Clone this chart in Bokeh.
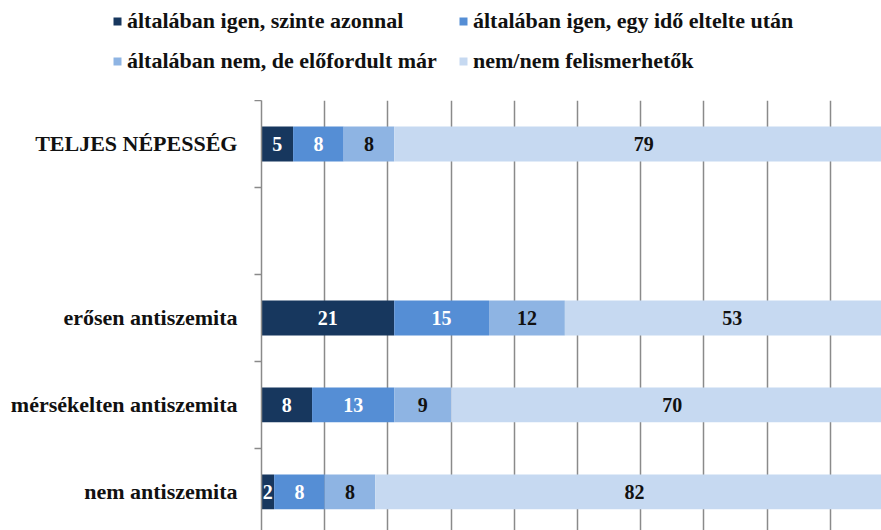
from bokeh.plotting import figure
from bokeh.layouts import column
from bokeh.models import ColumnDataSource, Range1d, FixedTicker, Legend, LegendItem
from bokeh.core.properties import value
from bokeh.embed import file_html
from bokeh.resources import INLINE

categories = ["TELJES NÉPESSÉG", "", "erősen antiszemita", "mérsékelten antiszemita", "nem antiszemita"]
series_names = ["általában igen, szinte azonnal", "általában igen, egy idő eltelte után",
                "általában nem, de előfordult már", "nem/nem felismerhetők"]
s1 = [5, 0, 21, 8, 2]
s2 = [8, 0, 15, 13, 8]
s3 = [8, 0, 12, 9, 8]
s4 = [79, 0, 53, 70, 82]
colors = ["#17375E", "#558ED5", "#8EB4E3", "#C6D9F1"]
label_colors = ["white", "white", "#111111", "#111111"]
x_ticks = [0, 10, 20, 30, 40, 50, 60, 70, 80, 90, 100]

FONT = "Liberation Serif"
XMAX = 98.1
n = len(categories)
ypos = [n - 1 - i for i in range(n)]

keys = ["s1", "s2", "s3", "s4"]
data = dict(y=ypos, s1=s1, s2=s2, s3=s3, s4=s4)
source = ColumnDataSource(data)

# ---- legend strip on top ----
lf = figure(width=881, height=100, output_backend="svg", toolbar_location=None,
            x_range=Range1d(0, 1), y_range=Range1d(0, 1),
            x_axis_location=None, y_axis_location=None,
            min_border_left=0, min_border_right=0, min_border_top=0, min_border_bottom=0)
lf.frame_align = False
lf.outline_line_color = None
lf.xgrid.visible = False
lf.ygrid.visible = False
# legend-only swatches (zero-width bars, placed outside the visible range)
dummy = [lf.hbar(y=[-5], left=[0], right=[0], height=0.4, color=c, line_width=0) for c in colors]
legend = Legend(items=[LegendItem(label=series_names[i], renderers=[dummy[i]]) for i in range(4)],
                location=(112, 26), orientation="horizontal", ncols=2,
                glyph_width=10, glyph_height=10, label_standoff=5, spacing=14,
                padding=0, margin=0, label_height=24, label_width=317,
                label_text_font=FONT, label_text_font_style="bold",
                label_text_font_size="22px", label_text_color="#111111",
                border_line_color=None, background_fill_alpha=0)
lf.add_layout(legend, "center")

# ---- main chart ----
p = figure(width=881, height=430, output_backend="svg", toolbar_location=None,
           x_range=Range1d(0, XMAX), y_range=Range1d(-0.443, n - 0.5),
           x_axis_location=None, min_border_left=261, min_border_right=0,
           min_border_top=0, min_border_bottom=0)
p.frame_align = False
p.outline_line_color = None
p.ygrid.grid_line_color = None
p.xgrid.ticker = FixedTicker(ticks=x_ticks)
p.xgrid.grid_line_color = "#8a8a8a"
p.xgrid.grid_line_width = 1.5

renderers = p.hbar_stack(keys, y="y", height=0.40, color=colors, source=source, line_width=0)

lx, ly, lt, lc = [], [], [], []
series = [s1, s2, s3, s4]
for j in range(n):
    left = 0
    for k, s in enumerate(series):
        v = s[j]
        if v:
            lx.append(left + v / 2)
            ly.append(ypos[j])
            lt.append(str(v))
            lc.append(label_colors[k])
        left += v
lsrc = ColumnDataSource(dict(x=lx, y=ly, t=lt, c=lc))
p.text(x="x", y="y", text="t", text_color="c", source=lsrc, text_align="center",
       text_baseline="middle", text_font=value(FONT), text_font_size="20px",
       text_font_style="bold")

yax = p.yaxis[0]
yax.ticker = FixedTicker(ticks=ypos, minor_ticks=[y + 0.5 for y in ypos])
yax.major_label_overrides = {ypos[i]: categories[i] for i in range(n)}
yax.major_tick_out = 0
yax.major_tick_in = 0
yax.minor_tick_out = 7
yax.minor_tick_in = 0
yax.minor_tick_line_color = "#8a8a8a"
yax.minor_tick_line_width = 1.5
yax.axis_line_color = "#8a8a8a"
yax.axis_line_width = 1.5
yax.major_label_text_font = FONT
yax.major_label_text_font_style = "bold"
yax.major_label_text_font_size = "22px"
yax.major_label_text_color = "#111111"
yax.major_label_standoff = 17

layout = column(lf, p, spacing=0)
open("out.html", "w").write(file_html(layout, INLINE))
